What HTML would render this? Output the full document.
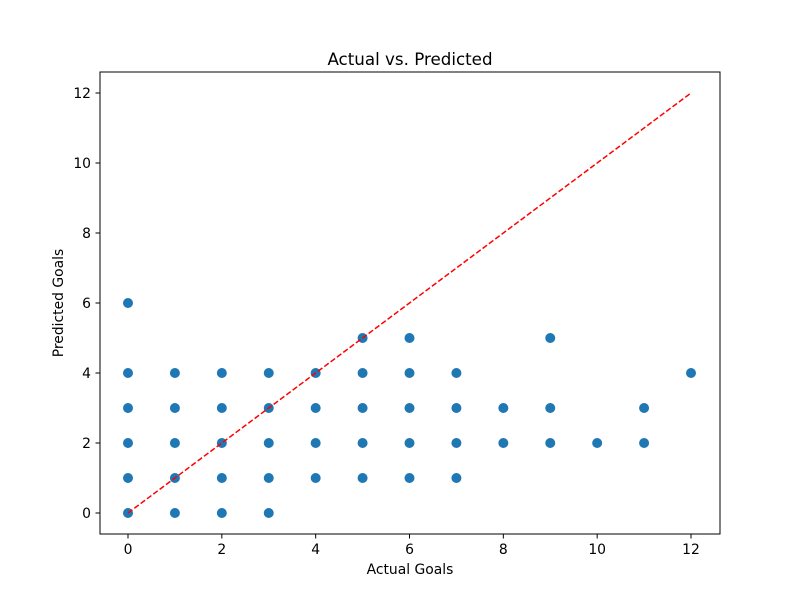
<!DOCTYPE html>
<html><head><meta charset="utf-8"><style>body{margin:0;background:#fff}svg{display:block;font-family:"DejaVu Sans","Liberation Sans",sans-serif}</style></head>
<body>
<svg id="chart" width="800" height="600" xmlns="http://www.w3.org/2000/svg">
<rect width="800" height="600" fill="#fff"/>
<text x="410" y="65" text-anchor="middle" font-size="16.7">Actual vs. Predicted</text>
<g id="plot"></g>
<rect x="100" y="72" width="620" height="462" fill="none" stroke="#000" stroke-width="1"/>
<text x="410" y="574" text-anchor="middle" font-size="13.9">Actual Goals</text>
<text transform="translate(63,303) rotate(-90)" text-anchor="middle" font-size="13.9">Predicted Goals</text>
</svg>
<script>
const actual = [0,0,0,0,0,0, 1,1,1,1,1, 2,2,2,2,2, 3,3,3,3,3, 4,4,4,4, 5,5,5,5,5, 6,6,6,6,6, 7,7,7,7, 8,8, 9,9,9, 10, 11,11, 12];
const predicted = [0,1,2,3,4,6, 0,1,2,3,4, 0,1,2,3,4, 0,1,2,3,4, 1,2,3,4, 1,2,3,4,5, 1,2,3,4,5, 1,2,3,4, 2,3, 2,3,5, 2, 2,3, 4];
const xTicks = [0,2,4,6,8,10,12];
const yTicks = [0,2,4,6,8,10,12];
const refLine = [0,12];
const NS = "http://www.w3.org/2000/svg";
const xs = v => 128 + v * (691 - 128) / 12;
const ys = v => 513 - v * (513 - 93) / 12;
const g = document.getElementById('plot');
function mk(t, a){const e=document.createElementNS(NS,t);for(const k in a)e.setAttribute(k,a[k]);g.appendChild(e);return e;}
xTicks.forEach(t=>{
  const l=mk('line',{x1:xs(t),x2:xs(t),y1:534,y2:538.5,stroke:'#000'});
  
  
  const tx=mk('text',{x:xs(t),y:554,'text-anchor':'middle','font-size':'13.9'});
  tx.textContent=t;
  
  
});
yTicks.forEach(t=>{
  const l=mk('line',{x1:95.5,x2:100,y1:ys(t),y2:ys(t),stroke:'#000'});
  
  
  const tx=mk('text',{x:91,y:ys(t)+5,'text-anchor':'end','font-size':'13.9'});
  tx.textContent=t;
  
  
});
actual.forEach((a,i)=>{
  const c=mk('circle',{cx:xs(a),cy:ys(predicted[i]),r:5,fill:'#1f77b4'});
  
  
});
const rl=mk('line',{x1:xs(refLine[0]),y1:ys(refLine[0]),x2:xs(refLine[1]),y2:ys(refLine[1]),stroke:'red','stroke-width':1.5,'stroke-dasharray':'5.5,2.4'});


</script>
</body></html>
